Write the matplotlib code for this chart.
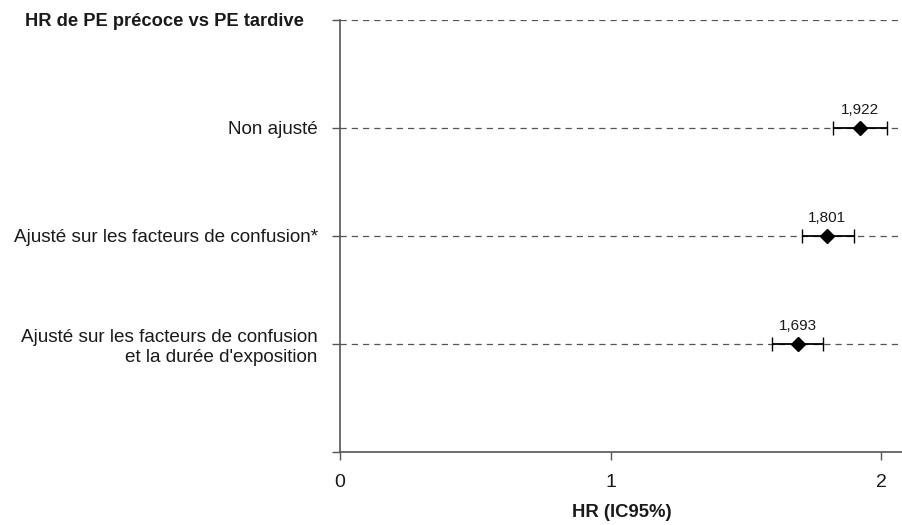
import matplotlib
matplotlib.use("Agg")
import matplotlib.pyplot as plt

plt.rcParams["font.family"] = ["Liberation Sans", "DejaVu Sans"]

title = "HR de PE précoce vs PE tardive"
categories = ["Non ajusté",
              "Ajusté sur les facteurs de confusion*",
              "Ajusté sur les facteurs de confusion\net la durée d'exposition"]
hr = [1.922, 1.801, 1.693]
ci_low = [1.821, 1.707, 1.596]
ci_high = [2.021, 1.899, 1.785]
hr_labels = ["1,922", "1,801", "1,693"]
xticks = [0, 1, 2]
xlabel = "HR (IC95%)"

fig = plt.figure(figsize=(9.03, 5.25), dpi=100)
ax = fig.add_axes([340/903, 1-452/525, 1-340/903, (452-20)/525])

axis_col = "#555555"
text_col = "#1a1a1a"
ypos = [3, 2, 1]
ax.set_xlim(0, 2.081)
ax.set_ylim(0, 4)

for y in [1, 2, 3, 4]:
    ax.axhline(y, color=axis_col, lw=0.9, ls=(0, (5, 4)), zorder=1)

for y, h, lo, hi, lab in zip(ypos, hr, ci_low, ci_high, hr_labels):
    ax.errorbar(h, y, xerr=[[h-lo], [hi-h]], fmt="D", color="black", ms=7,
                ecolor="black", elinewidth=1.3, capsize=5, capthick=1, zorder=3)
    ax.annotate(lab, (h, y), xytext=(0, 8), textcoords="offset points",
                ha="center", va="bottom", fontsize=11, color=text_col)

ax.set_yticks([0, 1, 2, 3, 4])
ax.set_yticklabels(["", categories[2], categories[1], categories[0], ""],
                   fontsize=13.6, color=text_col, ha="right")
ax.set_xticks(xticks)
ax.set_xticklabels([str(t) for t in xticks], fontsize=14, color=text_col)
ax.tick_params(axis="y", length=6, color=axis_col, width=1, pad=10)
ax.tick_params(axis="x", length=6, color=axis_col, width=1, pad=10)
for lab in ax.get_yticklabels():
    lab.set_multialignment("right")

for s in ["top", "right"]:
    ax.spines[s].set_visible(False)
for s in ["left", "bottom"]:
    ax.spines[s].set_color(axis_col)
    ax.spines[s].set_linewidth(1.2)

ax.set_xlabel(xlabel, fontsize=13.3, fontweight="bold", color=text_col, labelpad=9)
fig.text(25/903, 1-22/525, title, fontsize=13.2, fontweight="bold", color=text_col,
         ha="left", va="center")

fig.savefig("out.png", dpi=100)
